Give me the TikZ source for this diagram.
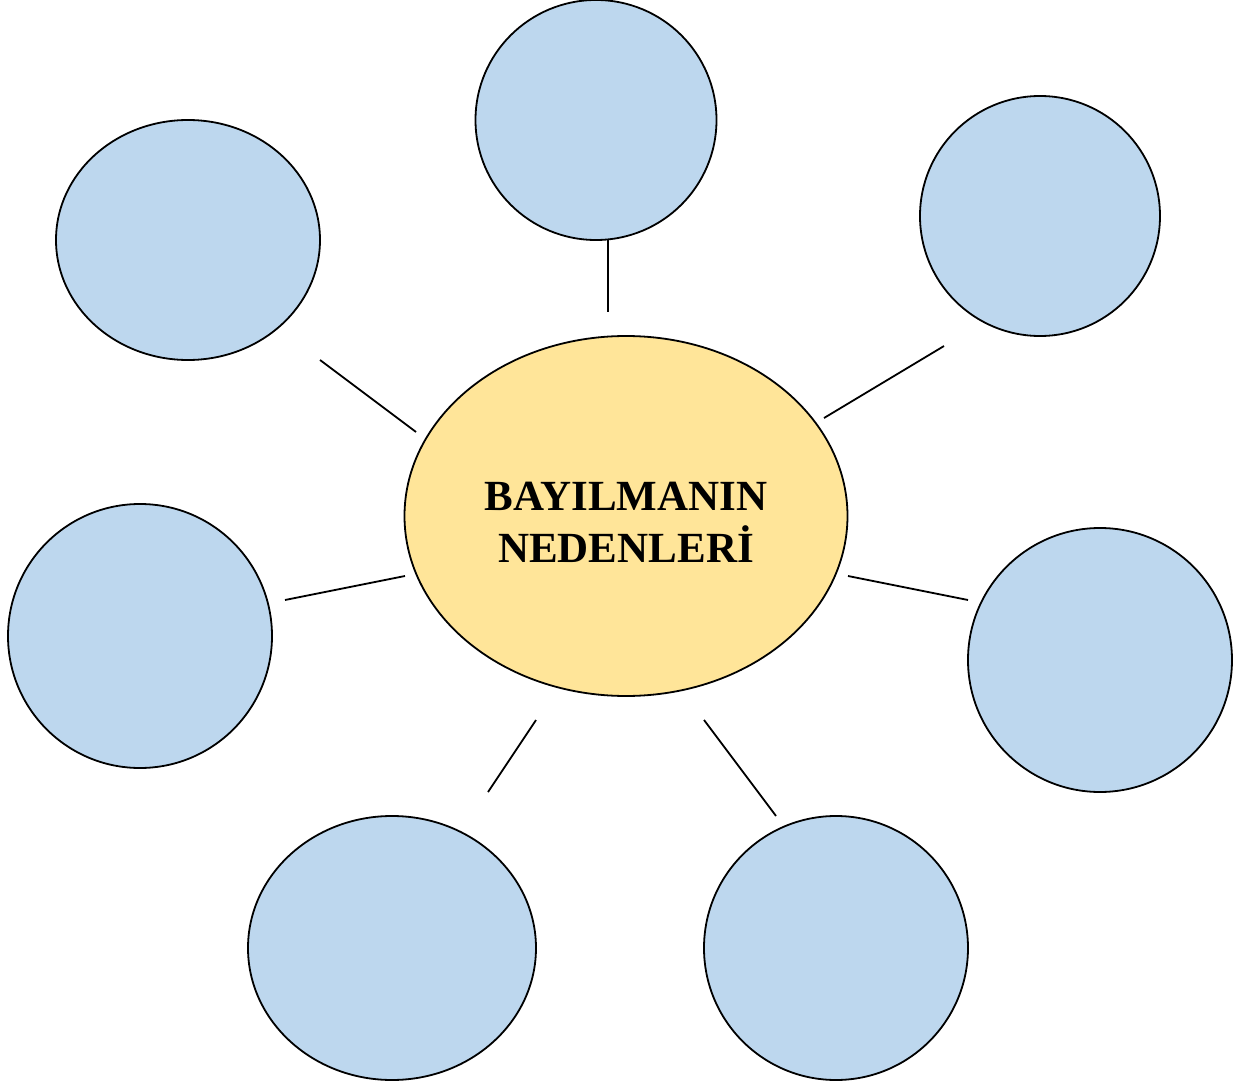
\documentclass[tikz,border=0pt]{standalone}
\usepackage{fontspec}
\setmainfont{Liberation Serif}
\usetikzlibrary{shapes.geometric}
\definecolor{bluefill}{HTML}{BDD7EE}
\definecolor{yellowfill}{HTML}{FFE599}
\begin{document}
\begin{tikzpicture}[x=0.5pt,y=-0.5pt,
  bubble/.style={ellipse, draw=black, line width=0.9pt, fill=bluefill, inner sep=0pt},
  hub/.style={ellipse, draw=black, line width=0.9pt, fill=yellowfill, inner sep=0pt},
  hubtext/.style={align=center, font=\fontsize{21.5}{26}\selectfont\bfseries},
  link/.style={draw=black, line width=0.9pt}]
\useasboundingbox (0,0) rectangle (1239,1086);
\node[hub, minimum width=443*0.5pt, minimum height=360*0.5pt] (c) at (626,516) {};
\node[hubtext] (t) at (626,522) {BAYILMANIN\\NEDENLERİ};
\node[bubble, minimum width=241*0.5pt, minimum height=240*0.5pt] (n1) at (596,120) {};
\node[bubble, minimum width=264*0.5pt, minimum height=240*0.5pt] (n2) at (188,240) {};
\node[bubble, minimum width=240*0.5pt, minimum height=240*0.5pt] (n3) at (1040,216) {};
\node[bubble, minimum width=264*0.5pt, minimum height=264*0.5pt] (n4) at (140,636) {};
\node[bubble, minimum width=264*0.5pt, minimum height=264*0.5pt] (n5) at (1100,660) {};
\node[bubble, minimum width=288*0.5pt, minimum height=264*0.5pt] (n6) at (392,948) {};
\node[bubble, minimum width=264*0.5pt, minimum height=264*0.5pt] (n7) at (836,948) {};
\coordinate (a1) at (608,240); \coordinate (b1) at (608,312);
\coordinate (a2) at (320,360); \coordinate (b2) at (416,432);
\coordinate (a3) at (944,346); \coordinate (b3) at (824,418);
\coordinate (a4) at (285,600); \coordinate (b4) at (405,576);
\coordinate (a5) at (968,600); \coordinate (b5) at (848,576);
\coordinate (a6) at (488,792); \coordinate (b6) at (536,720);
\coordinate (a7) at (776,816); \coordinate (b7) at (704,720);
\foreach \i in {1,...,7} {\draw[link] (a\i) -- (b\i);}
\end{tikzpicture}
\end{document}
